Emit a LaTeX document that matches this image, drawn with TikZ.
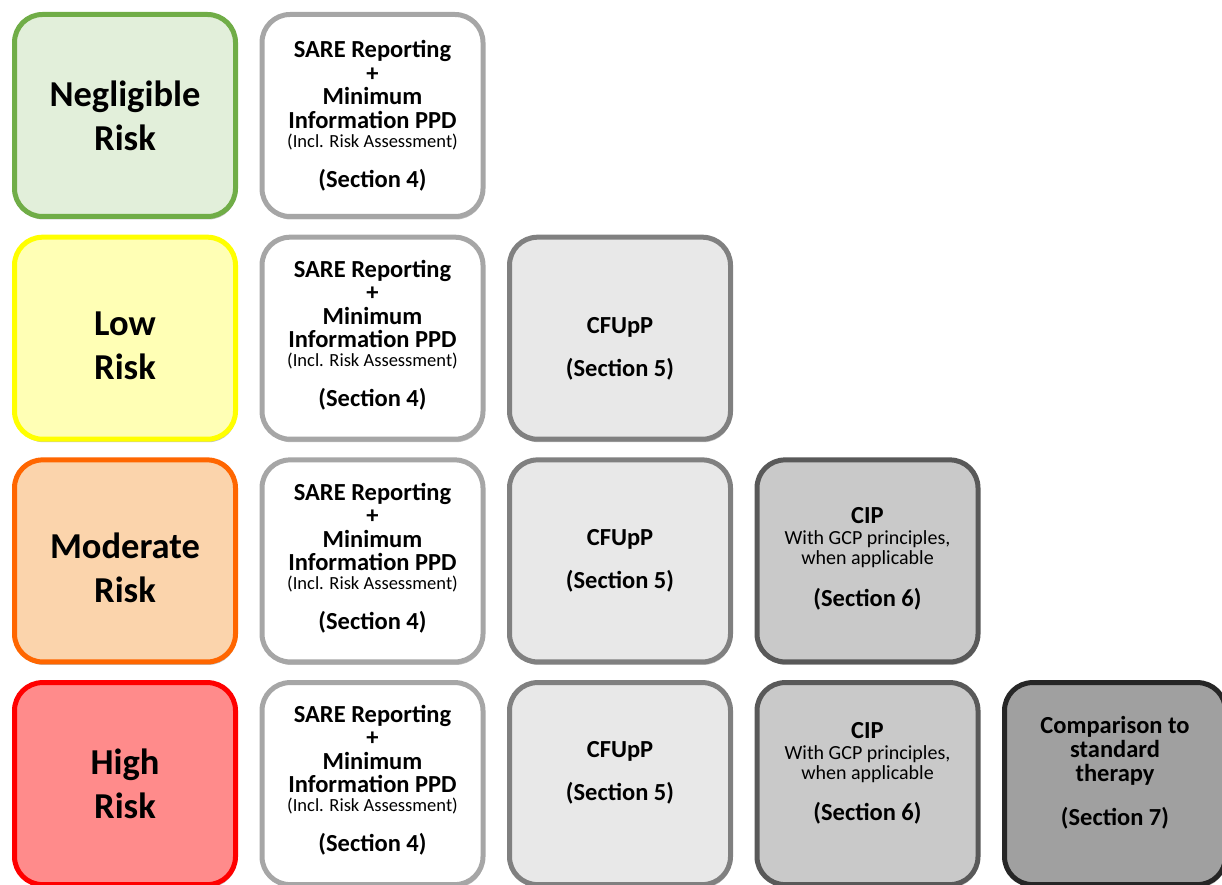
\documentclass[tikz,border=0pt]{standalone}
\usepackage{fontspec}
\setmainfont{Carlito}
\usetikzlibrary{shadows}
\definecolor{gB}{HTML}{70AD47}\definecolor{gF}{HTML}{E2EFDA}
\definecolor{yB}{HTML}{FFFF00}\definecolor{yF}{HTML}{FFFFB5}
\definecolor{oB}{HTML}{FF6600}\definecolor{oF}{HTML}{FBD4AC}
\definecolor{rB}{HTML}{FF0000}\definecolor{rF}{HTML}{FF8B8B}
\definecolor{aB}{HTML}{A6A6A6}\definecolor{aF}{HTML}{FFFFFF}
\definecolor{bB}{HTML}{808080}\definecolor{bF}{HTML}{E8E8E8}
\definecolor{cB}{HTML}{595959}\definecolor{cF}{HTML}{C9C9C9}
\definecolor{dB}{HTML}{262626}\definecolor{dF}{HTML}{A0A0A0}
\tikzset{
  box/.style={draw, line width=5pt, rounded corners=28pt, minimum width=221pt, minimum height=202pt,
    inner sep=0pt,
    drop shadow={shadow xshift=1pt, shadow yshift=-3pt, opacity=0.25, fill=black}},
  risktxt/.style={inner sep=0pt, align=center, text=black, font=\fontsize{36.5}{44}\selectfont\bfseries},
  sectxt/.style={inner sep=0pt, align=center, text=black, font=\fontsize{24.5}{23.5}\selectfont\bfseries},
  ciptxt/.style={inner sep=0pt, align=center, text=black, font=\fontsize{24.5}{21}\selectfont\bfseries},
  cmptxt/.style={inner sep=0pt, align=center, text=black, font=\fontsize{24.5}{24}\selectfont\bfseries},
}
\newcommand{\inclsmall}[1]{{\fontsize{18.5}{19}\selectfont\mdseries #1}}
\newcommand{\gcpsmall}[1]{{\fontsize{20}{20}\selectfont\mdseries #1}}
\newcommand{\sareText}{SARE Reporting\\+\\Minimum\\Information PPD\\[-4.5pt]\inclsmall{(Incl. Risk Assessment)}\\[16.5pt](Section 4)}
\newcommand{\cfuText}{CFUpP\\[19.5pt](Section 5)}
\newcommand{\cipText}{CIP\\\gcpsmall{With GCP principles,}\\[-1pt]\gcpsmall{when applicable}\\[19pt](Section 6)}
\begin{document}
\begin{tikzpicture}[x=1pt,y=-1pt]
\useasboundingbox (0,0) rectangle (1222,885);
\def\cA{125}\def\cB{372.5}\def\cC{620}\def\cD{867.5}\def\cE{1115}
\def\rA{115.5}\def\rB{338.2}\def\rC{560.9}\def\rD{783.6}
% row 1
\node[box, draw=gB, fill=gF] (neg) at (\cA,\rA) {};
\node[risktxt] (negT) at (\cA,\rA) {Negligible\\Risk};
\node[box, draw=aB, fill=aF] (neg4) at (\cB,\rA) {};
\node[sectxt] (neg4T) at (\cB,\rA) {\sareText};
% row 2
\node[box, draw=yB, fill=yF] (low) at (\cA,\rB) {};
\node[risktxt] (lowT) at (\cA,{\rB+7.5}) {Low\\Risk};
\node[box, draw=aB, fill=aF] (low4) at (\cB,\rB) {};
\node[sectxt] (low4T) at (\cB,{\rB-3}) {\sareText};
\node[box, draw=bB, fill=bF] (low5) at (\cC,\rB) {};
\node[sectxt] (low5T) at (\cC,{\rB+10.5}) {\cfuText};
% row 3
\node[box, draw=oB, fill=oF] (mod) at (\cA,\rC) {};
\node[risktxt] (modT) at (\cA,{\rC+7}) {Moderate\\Risk};
\node[box, draw=aB, fill=aF] (mod4) at (\cB,\rC) {};
\node[sectxt] (mod4T) at (\cB,{\rC-2.5}) {\sareText};
\node[box, draw=bB, fill=bF] (mod5) at (\cC,\rC) {};
\node[sectxt] (mod5T) at (\cC,{\rC-0.5}) {\cfuText};
\node[box, draw=cB, fill=cF] (mod6) at (\cD,\rC) {};
\node[ciptxt] (mod6T) at (\cD,{\rC-2}) {\cipText};
% row 4
\node[box, draw=rB, fill=rF] (high) at (\cA,\rD) {};
\node[risktxt] (highT) at (\cA,\rD) {High\\Risk};
\node[box, draw=aB, fill=aF] (high4) at (\cB,\rD) {};
\node[sectxt] (high4T) at (\cB,{\rD-3.5}) {\sareText};
\node[box, draw=bB, fill=bF] (high5) at (\cC,\rD) {};
\node[sectxt] (high5T) at (\cC,{\rD-11}) {\cfuText};
\node[box, draw=cB, fill=cF] (high6) at (\cD,\rD) {};
\node[ciptxt] (high6T) at (\cD,{\rD-10.5}) {\cipText};
\node[box, draw=dB, fill=dF] (high7) at (\cE,\rD) {};
\node[cmptxt] (high7T) at (\cE,{\rD-10.5}) {Comparison to\\standard\\therapy\\[20pt](Section 7)};
\end{tikzpicture}
\end{document}
